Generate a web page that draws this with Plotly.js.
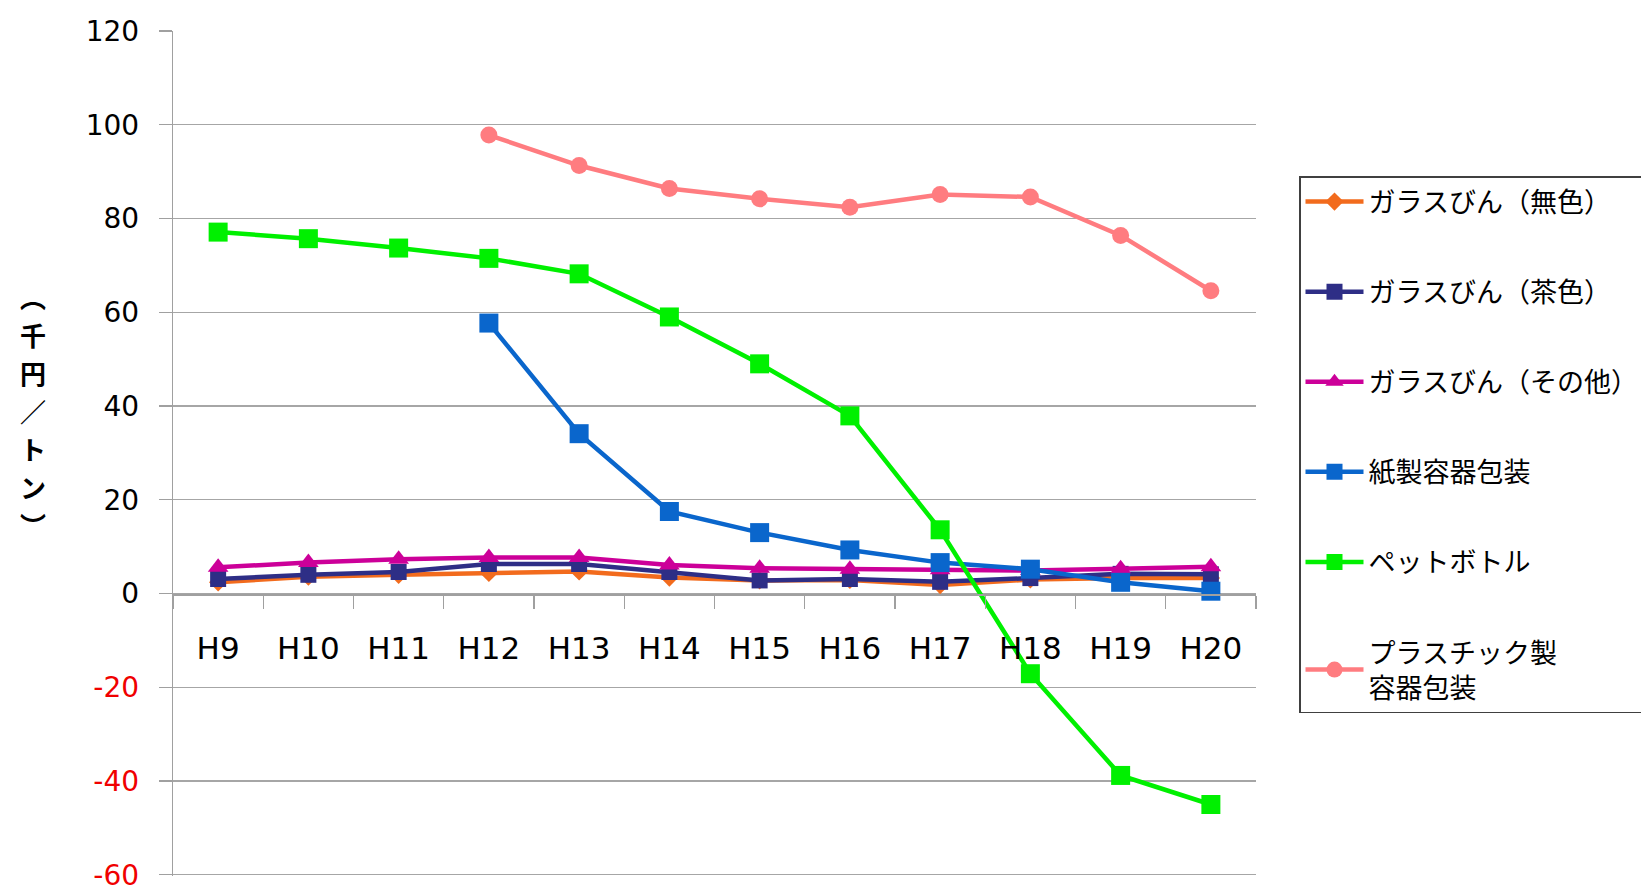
<!DOCTYPE html>
<html><head><meta charset="utf-8">
<script src="https://cdn.plot.ly/plotly-3.0.1.min.js"></script>
<style>html,body{margin:0;padding:0;background:#fff;}#chart{width:1641px;height:890px;}</style>
</head><body><div id="chart"></div>
<script>
var categories = ['H9','H10','H11','H12','H13','H14','H15','H16','H17','H18','H19','H20'];
var seriesNames = ['ガラスびん（無色）','ガラスびん（茶色）','ガラスびん（その他）','紙製容器包装','ペットボトル','プラスチック製<br>容器包装'];
var glassClear = [2.4, 3.6, 4.0, 4.4, 4.7, 3.4, 2.8, 2.9, 1.8, 3.0, 3.3, 3.3];
var glassBrown = [3.1, 4.0, 4.6, 6.3, 6.3, 4.6, 2.8, 3.1, 2.5, 3.3, 4.2, 4.1];
var glassOther = [5.6, 6.6, 7.3, 7.7, 7.7, 6.1, 5.4, 5.2, 5.1, 4.9, 5.3, 5.7];
var paper = [null, null, null, 57.7, 34.1, 17.5, 13.0, 9.3, 6.6, 5.2, 2.4, 0.5];
var petBottle = [77.1, 75.7, 73.7, 71.5, 68.2, 59.0, 49.0, 37.9, 13.6, -17.1, -38.8, -45.0];
var plastic = [null, null, null, 97.8, 91.3, 86.4, 84.2, 82.4, 85.1, 84.6, 76.4, 64.6];
var yTickVals = [120, 100, 80, 60, 40, 20, 0, -20, -40, -60];
var yTitleChars = ['︵','千','円','／','ト','ン','︶'];

var W = 1641, H = 890;
var L = 173, R = 1256, T = 31, B = 876;
var pw = R - L, ph = B - T;

var styles = [
  {color:'#F26B1D', symbol:'diamond', size:14},
  {color:'#2E2E86', symbol:'square', size:16},
  {color:'#CC0099', symbol:'triangle-up', size:18},
  {color:'#0A66CC', symbol:'square', size:19},
  {color:'#00F000', symbol:'square', size:19},
  {color:'#FF7C80', symbol:'circle', size:17}
];
var values = [glassClear, glassBrown, glassOther, paper, petBottle, plastic];
var traces = values.map(function(v, i){
  return {
    type:'scatter', mode:'lines+markers', x:categories, y:v, name:seriesNames[i],
    legendgroup:'g'+i, connectgaps:false,
    line:{color:styles[i].color, width:4.5},
    marker:{color:styles[i].color, symbol:styles[i].symbol, size:styles[i].size}
  };
});

var tickText = yTickVals.map(function(v){
  return v < 0 ? '<span style="color:#F00000">' + v + '</span>' : String(v);
});

var annotations = [];
var titleMid = 410, titlePitch = 38;
yTitleChars.forEach(function(c, i){
  var py = titleMid + (i - 3) * titlePitch;
  annotations.push({
    xref:'paper', yref:'paper', x:(33 - L)/pw, y:(B - py)/ph,
    xanchor:'center', yanchor:'middle', showarrow:false, text:'<b>'+c+'</b>',
    font:{family:'Noto Sans CJK JP', size:26, color:'#000'}
  });
});

var layout = {
  width:W, height:H,
  margin:{l:L, r:W-R, t:T, b:H-B, autoexpand:false},
  paper_bgcolor:'#fff', plot_bgcolor:'#fff',
  showlegend:true,
  font:{family:'DejaVu Sans, sans-serif', color:'#000'},
  xaxis:{
    type:'category', anchor:'free', position:60/180,
    range:[-0.5, 11.5], showgrid:false, zeroline:false,
    showline:true, linecolor:'#A0A0A0', linewidth:1.3,
    ticks:'outside', tickson:'boundaries', ticklen:13, tickcolor:'#A0A0A0', tickwidth:1.3,
    ticklabelstandoff:26,
    tickfont:{family:'DejaVu Sans, sans-serif', size:31, color:'#000'}
  },
  yaxis:{
    range:[-60.25, 120], tickvals:yTickVals, ticktext:tickText,
    showgrid:true, gridcolor:'#A6A6A6', gridwidth:1.3, zeroline:false,
    showline:true, linecolor:'#A0A0A0', linewidth:1.3,
    ticks:'outside', ticklen:13, tickcolor:'#A0A0A0', tickwidth:1.3,
    ticklabelstandoff:14, ticklabeloverflow:'allow',
    tickfont:{family:'DejaVu Sans, sans-serif', size:28, color:'#000'}
  },
  legend:{
    x:(1299 - L)/pw, y:(B - 176)/ph, xanchor:'left', yanchor:'top',
    xref:'paper', yref:'paper',
    bgcolor:'#fff', bordercolor:'#404040', borderwidth:1.5,
    tracegroupgap:52, itemwidth:58,
    font:{family:'Noto Sans CJK JP', size:27, color:'#000'}
  },
  annotations:annotations
};

Plotly.newPlot('chart', traces, layout, {displayModeBar:false, staticPlot:true});
</script></body></html>
